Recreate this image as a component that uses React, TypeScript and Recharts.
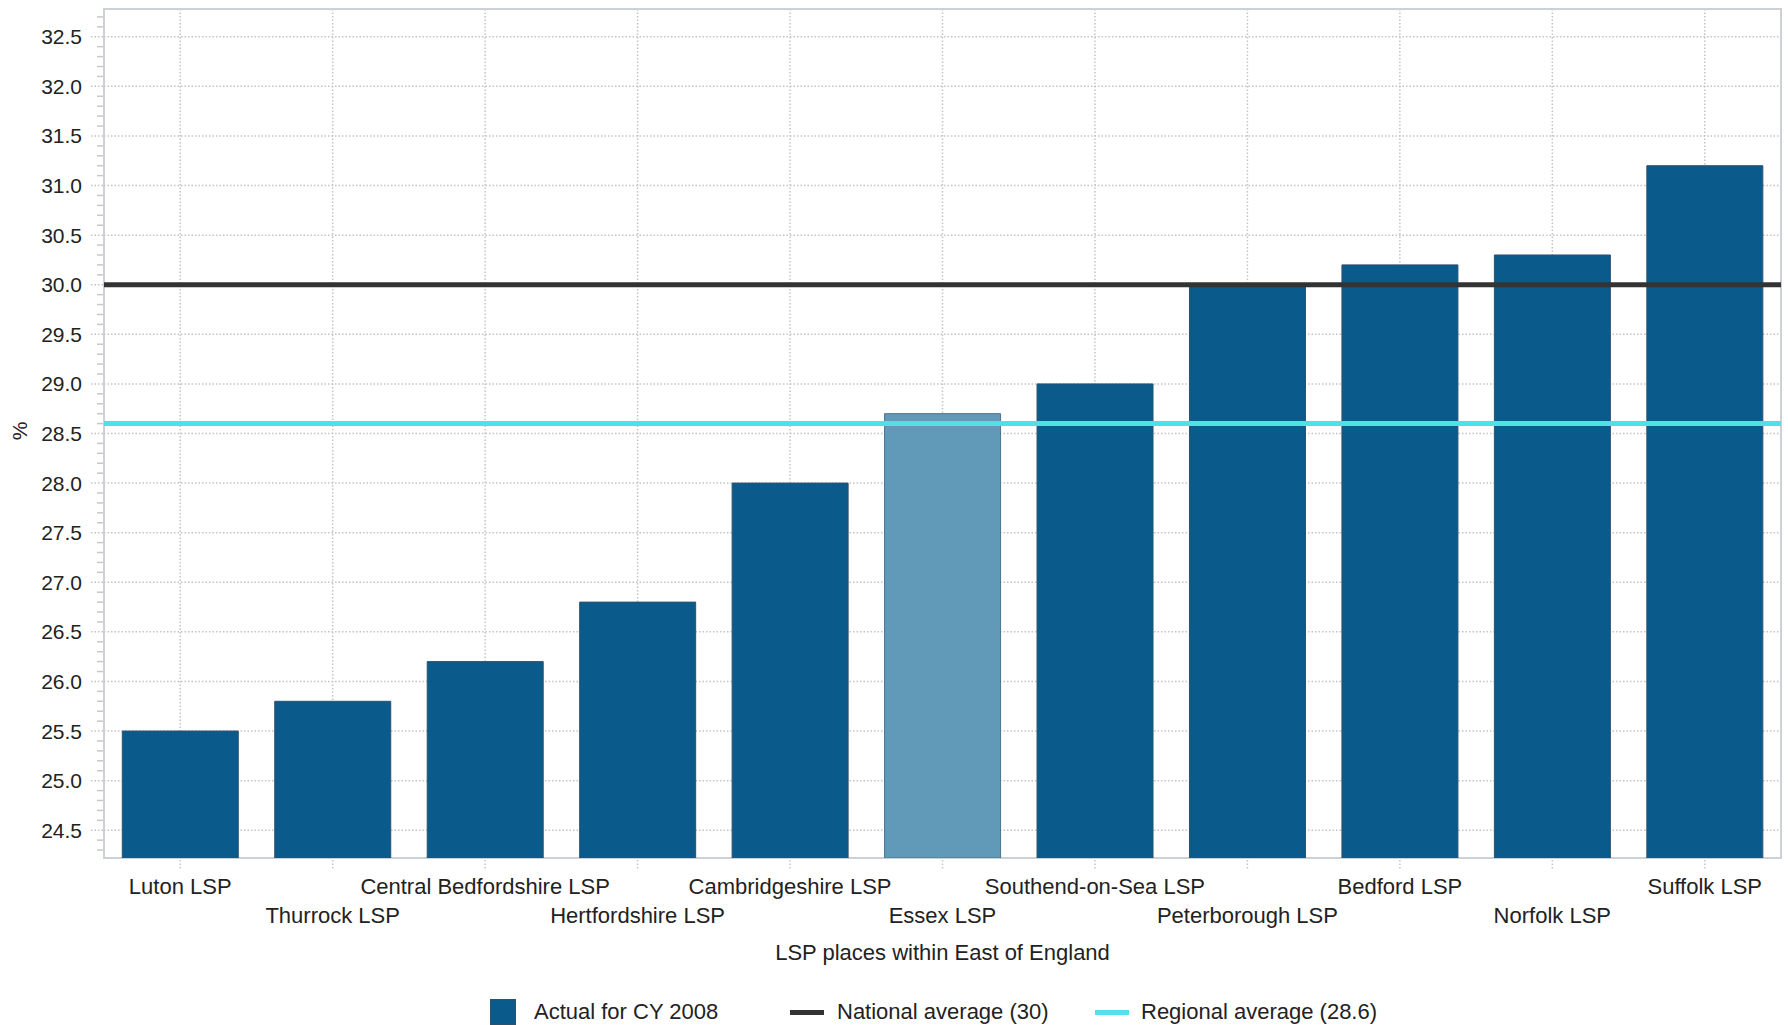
import React from 'react';
import {
  BarChart,
  Bar,
  XAxis,
  YAxis,
  CartesianGrid,
  ReferenceLine,
  ReferenceArea,
  Legend,
  Cell,
} from 'recharts';

const categories = [
  'Luton LSP',
  'Thurrock LSP',
  'Central Bedfordshire LSP',
  'Hertfordshire LSP',
  'Cambridgeshire LSP',
  'Essex LSP',
  'Southend-on-Sea LSP',
  'Peterborough LSP',
  'Bedford LSP',
  'Norfolk LSP',
  'Suffolk LSP',
];
const actualCY2008 = [25.5, 25.8, 26.2, 26.8, 28.0, 28.7, 29.0, 30.0, 30.2, 30.3, 31.2];
const highlightedCategory = 'Essex LSP';
const nationalAverage = 30;
const regionalAverage = 28.6;
const yMajorTicks = [24.5, 25.0, 25.5, 26.0, 26.5, 27.0, 27.5, 28.0, 28.5, 29.0, 29.5, 30.0, 30.5, 31.0, 31.5, 32.0, 32.5];
const yDomain = [24.22, 32.78];
const xAxisTitle = 'LSP places within East of England';
const yAxisTitle = '%';
const legendLabels = ['Actual for CY 2008', 'National average (30)', 'Regional average (28.6)'];

// minor ticks every 0.1 across the axis
const yAllTicks: number[] = [];
for (let i = 243; i <= 327; i++) yAllTicks.push(i / 10);

const data = categories.map((c, i) => ({ name: c, value: actualCY2008[i] }));

const FONT = '"Liberation Sans", Arial, sans-serif';
const BAR_COLOR = '#0b5a8c';
const BAR_STROKE = '#2b536f';
const HL_COLOR = '#6199b8';
const HL_STROKE = '#4a7590';
const NAT_COLOR = '#333333';
const REG_COLOR = '#4fe1e3';
const GRID = '#c4c4c4';
const TEXT = '#222222';

const YTick = (props: any) => {
  const { x, y, payload } = props;
  const v = payload.value as number;
  const isMajor = Math.abs(v * 2 - Math.round(v * 2)) < 1e-6;
  if (isMajor) {
    return (
      <g>
        <line x1={x - 13} x2={x} y1={y} y2={y} stroke={GRID} strokeWidth={1.5} strokeDasharray="1.5 2" />
        <text x={x - 22} y={y + 7.5} textAnchor="end" fontSize={21} fill={TEXT} fontFamily={FONT}>
          {v.toFixed(1)}
        </text>
      </g>
    );
  }
  return <line x1={x - 7} x2={x - 1} y1={y} y2={y} stroke="#c8c8c8" strokeWidth={1.5} />;
};

const XTick = (props: any) => {
  const { x, y, payload, index } = props;
  const row = index % 2;
  return (
    <g>
      <line x1={x} x2={x} y1={y + 2} y2={y + 12} stroke={GRID} strokeWidth={1.5} strokeDasharray="1.5 2" />
      <text x={x} y={y + (row ? 64.5 : 36)} textAnchor="middle" fontSize={22} fill={TEXT} fontFamily={FONT}>
        {payload.value}
      </text>
    </g>
  );
};

const PercentLabel = (props: any) => {
  const cx = 19;
  const cy = 431;
  return (
    <text
      x={cx}
      y={cy}
      transform={`rotate(-90 ${cx} ${cy})`}
      textAnchor="middle"
      dominantBaseline="central"
      fontSize={21}
      fill={TEXT}
      fontFamily={FONT}
    >
      {yAxisTitle}
    </text>
  );
};

const LegendContent = () => {
  const textStyle: React.CSSProperties = {
    position: 'absolute',
    top: 0,
    height: 26,
    lineHeight: '26px',
    fontSize: 22,
    color: TEXT,
    fontFamily: FONT,
    whiteSpace: 'nowrap',
  };
  return (
    <div style={{ position: 'relative', width: 1788, height: 26 }}>
      <div style={{ position: 'absolute', left: 490, top: 0, width: 26, height: 26, background: BAR_COLOR, boxSizing: 'border-box', border: `1px solid ${BAR_STROKE}` }} />
      <div style={{ ...textStyle, left: 534 }}>{legendLabels[0]}</div>
      <div style={{ position: 'absolute', left: 790, top: 11, width: 34, height: 5, background: NAT_COLOR }} />
      <div style={{ ...textStyle, left: 837 }}>{legendLabels[1]}</div>
      <div style={{ position: 'absolute', left: 1095, top: 11, width: 34, height: 5, background: REG_COLOR }} />
      <div style={{ ...textStyle, left: 1141 }}>{legendLabels[2]}</div>
    </div>
  );
};

export default function App() {
  return (
    <div style={{ position: 'absolute', left: 0, top: 0, width: 1788, height: 1025, background: '#fff' }}>
      <BarChart
        width={1788}
        height={1025}
        data={data}
        margin={{ top: 9, right: 7, left: 0, bottom: 0 }}
        barCategoryGap="12%"
      >
        <CartesianGrid
          stroke={GRID}
          strokeWidth={1.5}
          strokeDasharray="1.5 2"
          horizontalValues={yMajorTicks}
        />
        <ReferenceArea
          y1={yDomain[0]}
          y2={yDomain[1]}
          fill="none"
          stroke="#cdd0d4"
          strokeWidth={2}
          ifOverflow="extendDomain"
        />
        <XAxis
          dataKey="name"
          height={141}
          interval={0}
          tickSize={0}
          tickMargin={0}
          tickLine={false}
          axisLine={false}
          tick={<XTick />}
          label={{ value: xAxisTitle, position: 'insideBottom', offset: 39, fontSize: 22, fill: TEXT, fontFamily: FONT }}
        />
        <YAxis
          type="number"
          domain={yDomain}
          allowDataOverflow
          ticks={yAllTicks}
          interval={0}
          width={104}
          tickSize={0}
          tickMargin={0}
          tickLine={false}
          axisLine={false}
          tick={<YTick />}
          label={<PercentLabel />}
        />
        <Bar dataKey="value" isAnimationActive={false} strokeWidth={1}>
          {data.map((d) => (
            <Cell
              key={d.name}
              fill={d.name === highlightedCategory ? HL_COLOR : BAR_COLOR}
              stroke={d.name === highlightedCategory ? HL_STROKE : BAR_STROKE}
            />
          ))}
        </Bar>
        <ReferenceLine y={nationalAverage} stroke={NAT_COLOR} strokeWidth={5} ifOverflow="extendDomain" />
        <ReferenceLine y={regionalAverage} stroke={REG_COLOR} strokeWidth={5} ifOverflow="extendDomain" />
        <Legend verticalAlign="bottom" content={<LegendContent />} wrapperStyle={{ left: 0, bottom: 0, width: 1788, height: 26 }} />
      </BarChart>
    </div>
  );
}
